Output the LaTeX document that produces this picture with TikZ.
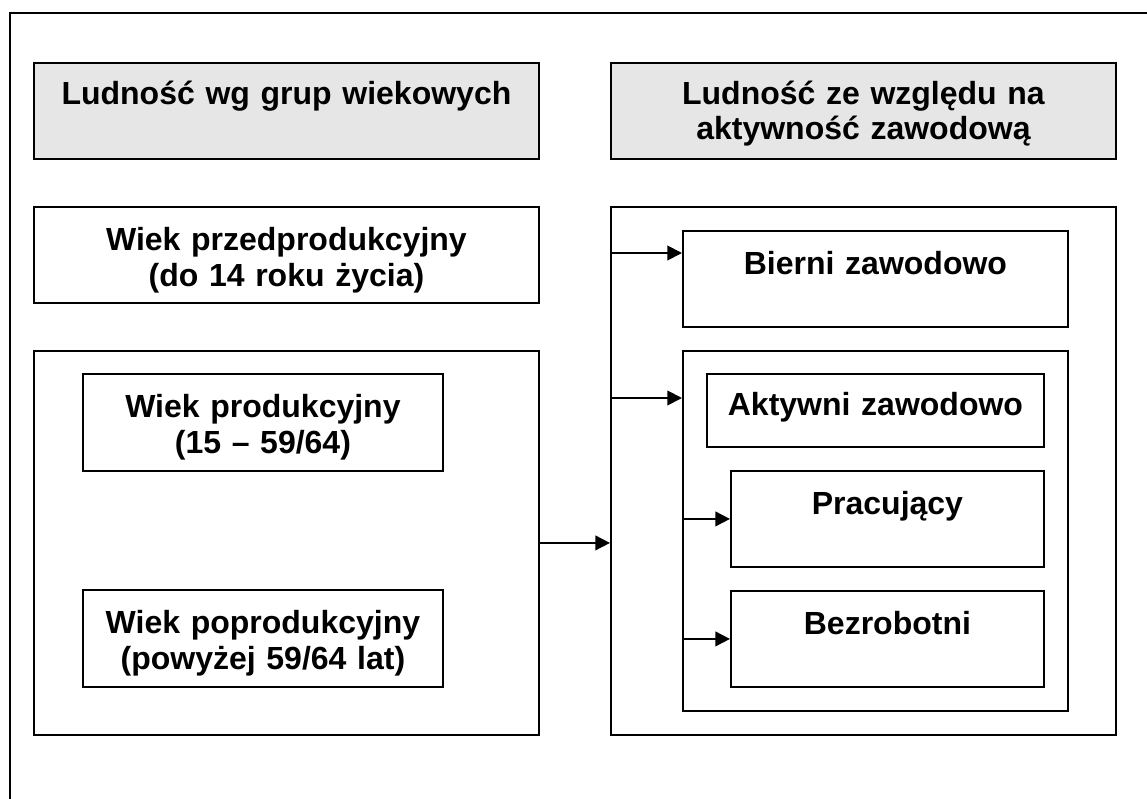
\documentclass[tikz,border=0pt]{standalone}
\usepackage{fontspec}
\setmainfont{Liberation Sans}
\usetikzlibrary{%
    arrows.meta,%
    positioning,%
    calc%
}
\definecolor{hdrgray}{RGB}{230,230,230}
\tikzset{
    tbox/.style = {draw, line width = 1.4pt, inner sep = 0pt, anchor = north west,
        align = center, text height = 33pt, text depth = 39pt,
        font = \bfseries\fontsize{24}{26.5}\selectfont},
    hdrbox/.style = {tbox, fill = hdrgray},
    frame/.style = {draw, line width = 1.4pt, inner sep = 0pt, anchor = north west},
    arr/.style = {line width = 1.4pt, -{Triangle[length = 11pt, width = 11pt]}}
}

\begin{document}
\begin{tikzpicture}[x = 0.75pt, y = -0.75pt]
    \useasboundingbox (0,0) rectangle (1147,799);
    % Outer frame, cut by the page
    \draw[line width = 1.4pt] (10,830) -- (10,13) -- (1170,13);

    % Headers
    \node[hdrbox, text width = 378.75pt, text height = 31pt, text depth = 41pt] (hdrAge) at (33,62) {Ludność wg grup wiekowych};
    \node[hdrbox, text width = 378.75pt, text height = 31pt, text depth = 41pt] (hdrAct) at (610,62) {Ludność ze względu na\\aktywność zawodową};

    % Age groups
    \node[tbox, text width = 378.75pt] (preAge) at (33,206) {Wiek przedprodukcyjny\\(do 14 roku życia)};
    \node[frame, minimum width = 378.75pt, minimum height = 288pt] (workAge) at (33,350) {};
    \node[tbox, text width = 270pt, text depth = 39.75pt] (prodAge) at (82,373) {Wiek produkcyjny\\(15 – 59/64)};
    \node[tbox, text width = 270pt, text depth = 39.75pt] (postAge) at (82,589) {Wiek poprodukcyjny\\(powyżej 59/64 lat)};

    % Economic activity
    \node[frame, minimum width = 378.75pt, minimum height = 396pt] (allAct) at (610,206) {};
    \node[tbox, text width = 288.75pt] (passive) at (682,230) {Bierni zawodowo};
    \node[frame, minimum width = 288.75pt, minimum height = 270pt] (actGrp) at (682,350) {};
    \node[tbox, text width = 252.75pt, text height = 31.5pt, text depth = 23.25pt] (active) at (706,373) {Aktywni zawodowo};
    \node[tbox, text width = 234.75pt] (employed) at (730,470) {Pracujący};
    \node[tbox, text width = 234.75pt] (unemployed) at (730,590) {Bezrobotni};

    % Arrows
    \coordinate (toPassive) at ($(allAct.north west)+(0,47)$);
    \coordinate (toActive) at ($(allAct.north west)+(0,192)$);
    \draw[arr] (workAge.east) -- (workAge.east -| allAct.west);
    \draw[arr] (toPassive) -- (toPassive -| passive.west);
    \draw[arr] (toActive) -- (toActive -| actGrp.west);
    \draw[arr] (employed.west -| actGrp.west) -- (employed.west);
    \draw[arr] (unemployed.west -| actGrp.west) -- (unemployed.west);
\end{tikzpicture}
\end{document}
